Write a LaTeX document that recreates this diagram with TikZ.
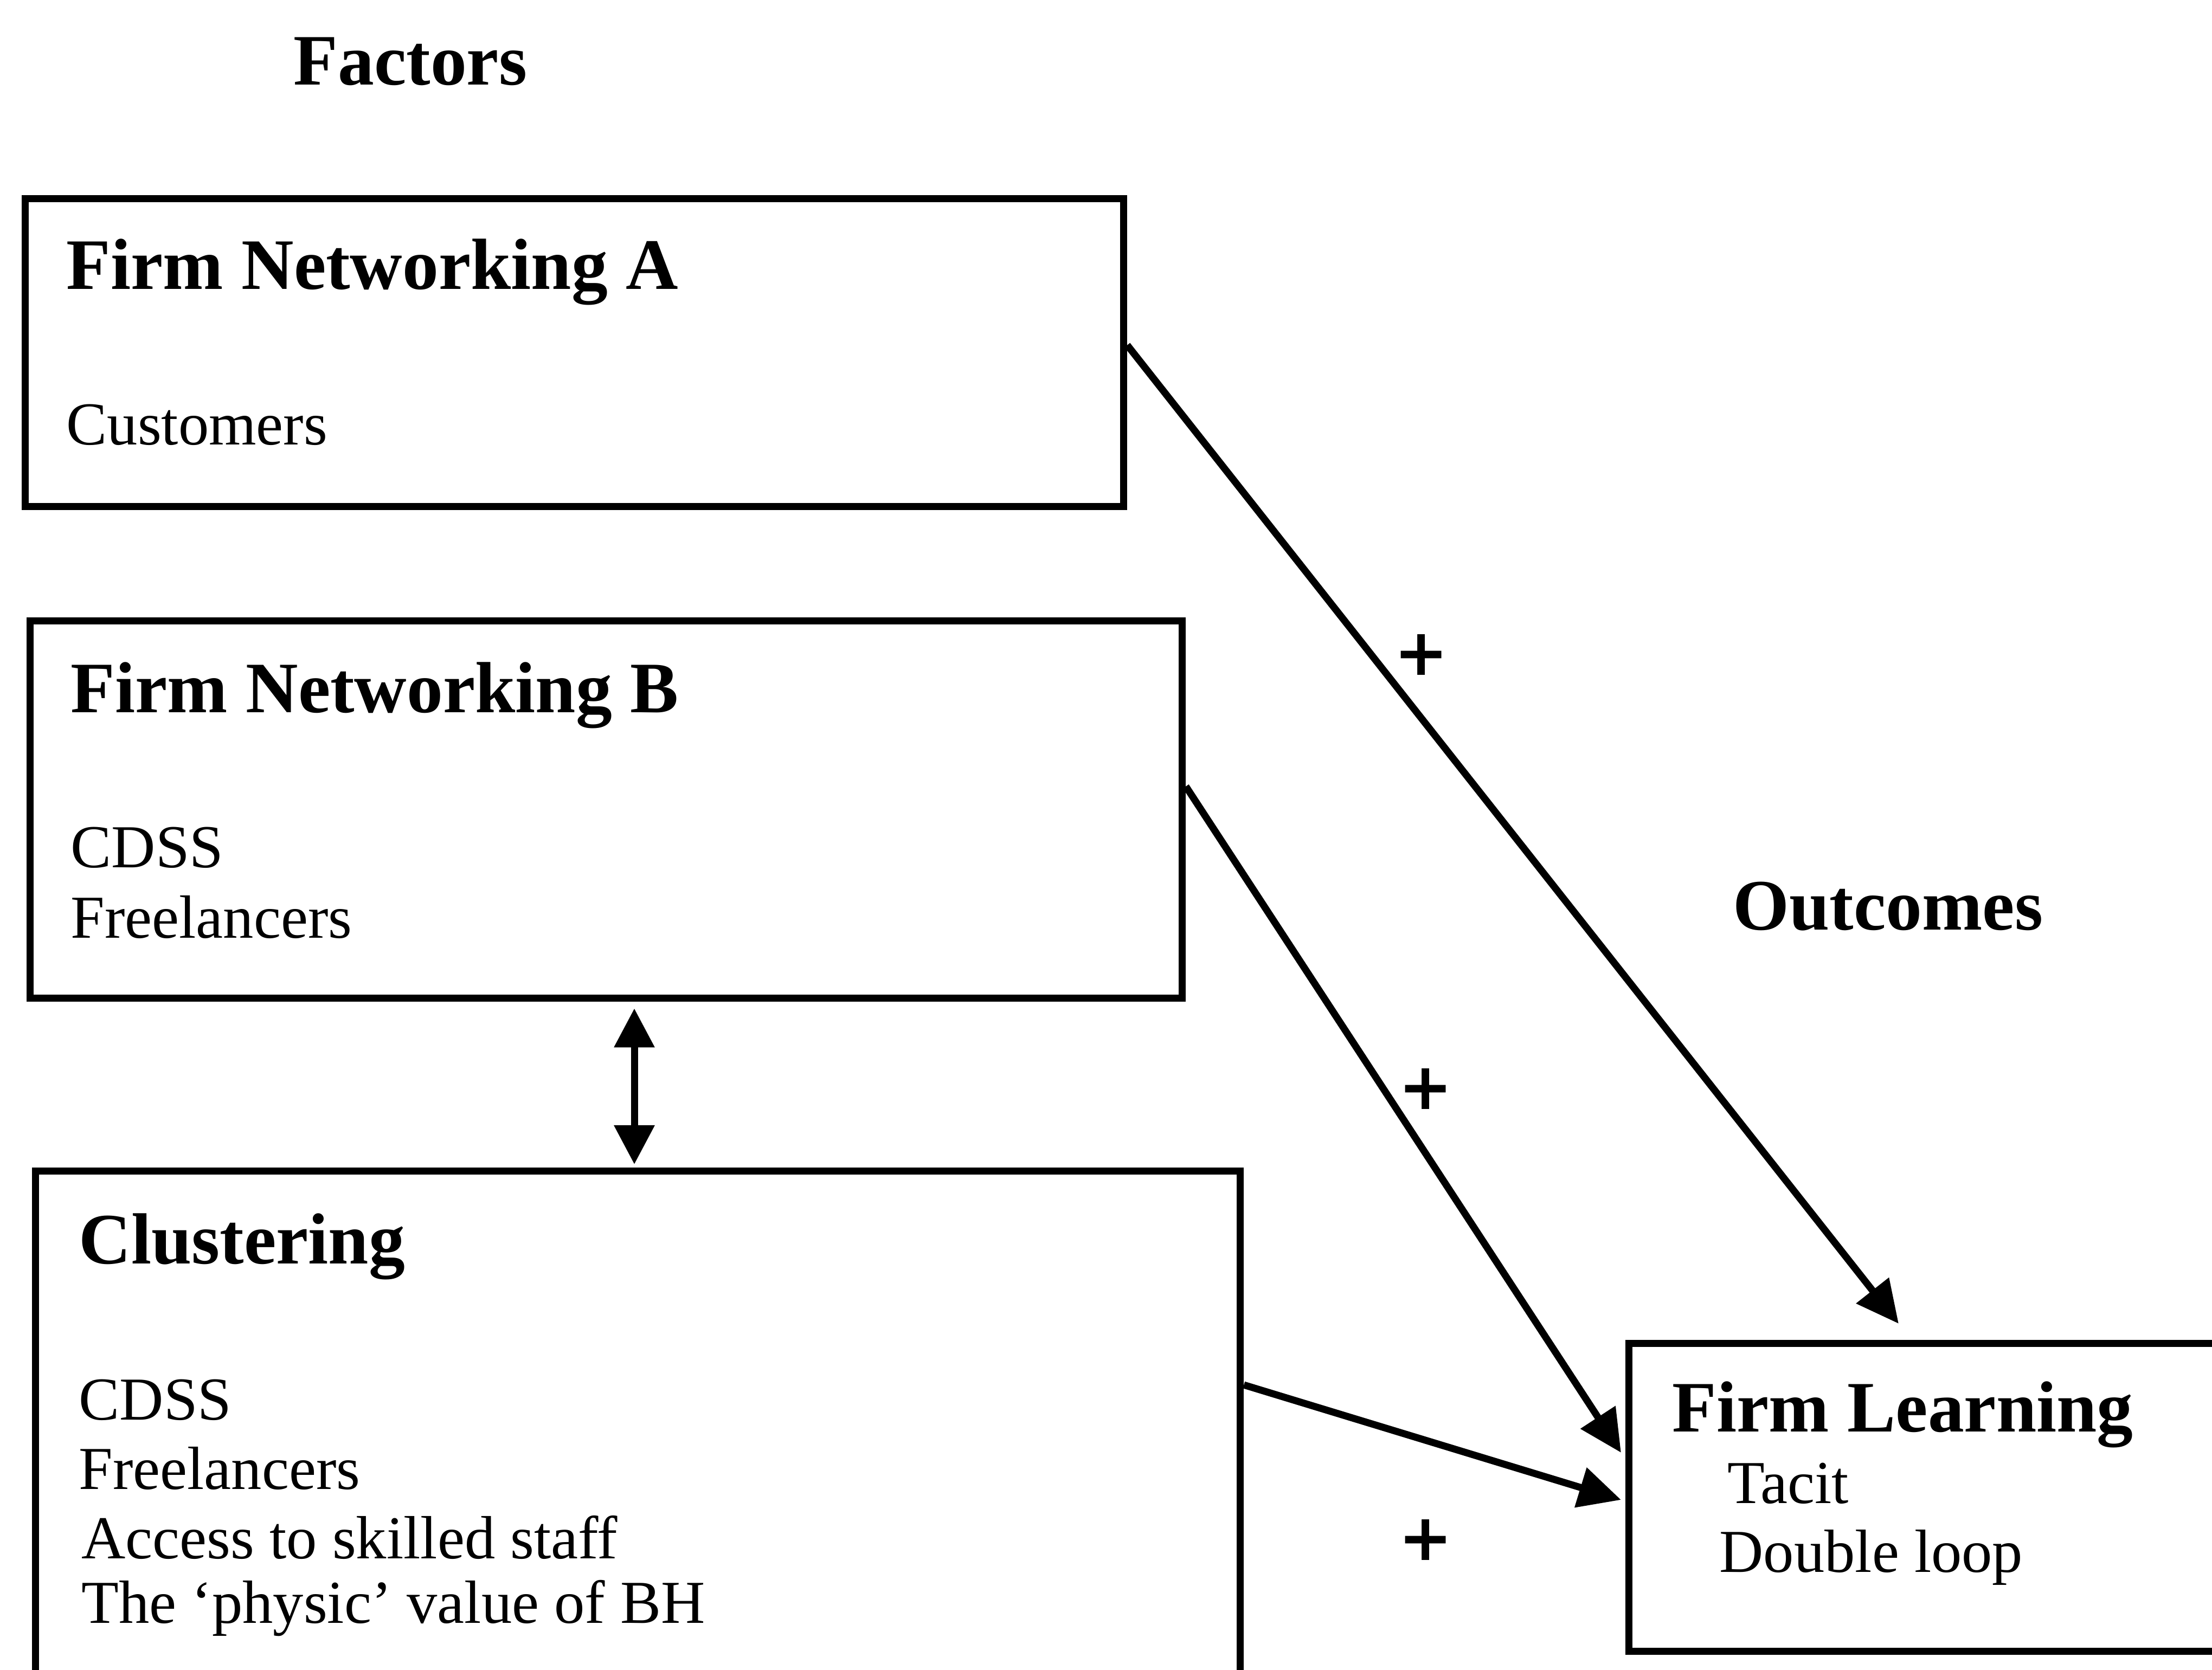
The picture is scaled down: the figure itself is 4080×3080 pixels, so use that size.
\documentclass[tikz,border=0pt]{standalone}
\usepackage{fontspec}
\setmainfont{Liberation Serif}
\newfontfamily\signfont{DejaVu Sans}
\usetikzlibrary{arrows.meta,calc}
\tikzset{
  frame/.style={draw=black, line width=0.13cm, rectangle, anchor=north west, inner sep=0pt},
  head/.style={anchor=base west, inner sep=0pt, font=\fontsize{38}{44}\selectfont\bfseries},
  item/.style={anchor=base west, inner sep=0pt, font=\fontsize{32}{38}\selectfont},
  plus/.style={inner sep=0pt, font=\signfont\fontsize{34}{40}\selectfont\bfseries},
  link/.style={line width=0.13cm, -{Triangle[length=0.78cm,width=0.74cm]}},
  twoway/.style={line width=0.13cm, {Triangle[length=0.72cm,width=0.72cm]}-{Triangle[length=0.72cm,width=0.72cm]}}
}
\begin{document}
\begin{tikzpicture}[x=0.01cm, y=-0.01cm]
\useasboundingbox (0,0) rectangle (4080,3080);
\clip (0,0) rectangle (4080,3080);
\fill[white] (0,0) rectangle (4080,3080);

% column titles
\node[head] (factors) at (541,156) {Factors};
\node[head] (outcomes) at (3196,1715) {Outcomes};

% factor boxes
\node[frame, minimum width=20.25cm, minimum height=5.68cm] (boxA) at (40,360) {};
\node[head] (tA) at (122,533) {Firm Networking A};
\node[item] (iA1) at (122,820) {Customers};

\node[frame, minimum width=21.24cm, minimum height=6.96cm] (boxB) at (49,1139) {};
\node[head] (tB) at (130,1314) {Firm Networking B};
\node[item] (iB1) at (130,1600) {CDSS};
\node[item] (iB2) at (130,1730) {Freelancers};

\node[frame, minimum width=22.21cm, minimum height=10.44cm] (boxC) at (59,2154) {};
\node[head] (tC) at (145,2331) {Clustering};
\node[item] (iC1) at (145,2619) {CDSS};
\node[item] (iC2) at (145,2747) {Freelancers};
\node[item] (iC3) at (150,2875) {Access to skilled staff};
\node[item] (iC4) at (150,2994) {The `physic' value of BH};

% outcome box
\node[frame, minimum width=12.01cm, minimum height=5.68cm] (boxFL) at (2998,2472) {};
\node[head] (tFL) at (3084,2641) {Firm Learning};
\node[item] (iFL1) at (3186,2773) {Tacit};
\node[item] (iFL2) at (3171,2900) {Double loop};

% influences
\draw[link] ($(boxA.east)+(0,-14)$) -- ($(boxFL.north west)+(504,-30)$);
\draw[link] ($(boxB.east)+(0,-43)$) -- ($(boxFL.north west)+(-8,208)$);
\draw[link] ($(boxC.north east)+(0,401)$) -- ($(boxFL.north west)+(-8,295)$);
\draw[twoway] ($(boxB.south west)+(1121,12)$) -- ($(boxC.north west)+(1111,-6)$);

\node[plus] (p1) at (2622,1208) {+};
\node[plus] (p2) at (2630,2009) {+};
\node[plus] (p3) at (2630,2841) {+};
\end{tikzpicture}
\end{document}
